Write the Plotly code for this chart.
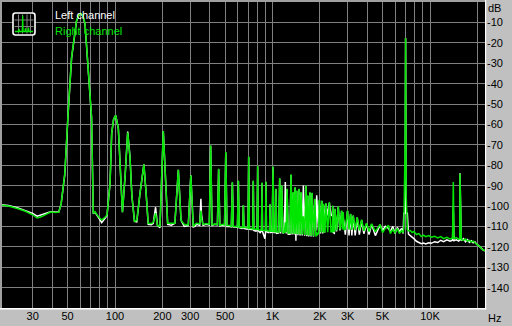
import plotly.graph_objects as go

# ---------------- data ----------------
# low band: 19 Hz .. 322 Hz
freq_low = [19.0, 21.0, 24.0, 27.0, 30.0, 32.0, 34.0, 36.5, 39.0, 42.0, 44.0, 45.5, 48.0, 50.5, 53.0, 57.0,
            59.0, 60.5, 62.5, 64.5, 67.7, 71.0, 72.8, 74.6, 78.4, 82.3, 86.4, 89.0, 93.0, 95.3, 98.0, 101.0,
            105.0, 108.0, 111.5, 116.0, 120.4, 124.5, 128.0, 133.0, 137.5, 144.0, 152.6, 158.0, 162.5, 170.0,
            175.0, 181.0, 186.0, 193.0, 198.0, 202.6, 210.0, 216.0, 228.0, 240.0, 252.4, 262.5, 275.0, 292.0,
            303.0, 314.0, 322.0]
right_low = [-99.6, -100.0, -101.2, -102.6, -104.3, -105.9, -105.3, -104.0, -103.0, -103.2, -103.0, -99.0, -84.0, -53.0, -27.0, -9.0,
             -6.2, -5.6, -6.6, -10.5, -32.0, -56.4, -103.6, -102.8, -105.2, -106.9, -105.5, -104.4, -89.0, -64.3, -57.5, -55.5,
             -62.0, -80.0, -103.0, -85.0, -64.0, -76.0, -95.0, -107.5, -107.0, -94.0, -79.6, -95.0, -108.5, -108.6,
             -108.0, -103.5, -109.5, -110.0, -88.7, -63.3, -88.9, -108.5, -108.5, -108.5, -82.2, -107.0, -109.0, -109.3,
             -85.0, -110.0, -109.0]
left_low = [-99.3, -99.8, -100.9, -102.2, -103.6, -105.0, -104.4, -103.4, -102.8, -103.0, -102.8, -99.0, -84.5, -53.5, -27.5, -9.3,
            -6.4, -5.8, -6.8, -10.8, -32.5, -57.0, -103.8, -103.0, -105.6, -108.2, -106.0, -104.6, -89.0, -64.3, -57.5, -55.6,
            -62.0, -80.0, -103.0, -85.0, -63.5, -76.0, -95.0, -107.5, -107.8, -94.0, -79.6, -95.0, -109.0, -109.2,
            -108.5, -100.6, -109.5, -110.6, -88.7, -63.3, -88.9, -109.0, -109.4, -108.5, -82.2, -107.0, -110.0, -109.6,
            -85.0, -110.3, -110.0]

# mid band: 330 Hz .. 1.1 kHz
freq_mid = [330, 345, 348, 351, 354, 362, 380, 397, 405, 413, 430, 447, 455, 463, 480, 496, 505, 514, 535, 548,
            556, 564, 585, 599, 607, 615, 640, 647, 653, 659, 690, 699, 706, 713, 735, 749, 755, 761, 785, 798,
            805, 812, 835, 852, 858, 864, 895, 903, 909, 915, 940, 958, 964, 970, 995, 1008, 1020, 1045, 1052,
            1062, 1095]
right_mid = [-108.5, -108.8, -104.0, -102.2, -106.0, -109.0, -108.6, -109.0, -70.3, -109.2, -108.8, -109.0, -81.7, -109.5,
             -109.0, -109.3, -73.5, -109.5, -109.6, -110.0, -88.3, -110.0, -110.0, -110.2, -87.5, -110.4, -110.5, -110.5,
             -99.5, -110.6, -110.6, -110.8, -75.8, -111.0, -111.0, -111.2, -87.5, -111.4, -111.4, -111.5, -80.3, -111.6,
             -111.8, -111.8, -88.5, -111.9, -112.0, -112.0, -88.0, -112.0, -112.2, -112.2, -99.0, -112.4, -112.4, -80.7,
             -112.5, -112.6, -91.5, -112.7, -112.8]
left_mid = [-109.0, -109.5, -100.0, -96.4, -104.0, -109.5, -109.0, -109.3, -70.5, -109.5, -109.0, -109.2, -82.0, -109.8,
            -109.5, -109.6, -73.8, -110.0, -110.0, -110.2, -88.5, -110.3, -110.2, -110.5, -87.8, -110.6, -111.0, -110.8,
            -99.7, -111.0, -111.4, -111.0, -76.0, -111.4, -111.5, -111.5, -87.7, -112.0, -112.3, -112.0, -80.5, -112.2,
            -113.0, -112.0, -88.8, -112.5, -116.0, -113.0, -88.3, -112.5, -113.0, -112.5, -99.3, -113.0, -112.8, -81.0,
            -113.0, -113.0, -91.8, -113.4, -113.2]

# upper-mid band: 1.1 kHz .. 3 kHz
freq_hi1 = [1111, 1126, 1144, 1165, 1190, 1206, 1222, 1237, 1258, 1292, 1311, 1332, 1354, 1372, 1390, 1408, 1425,
            1450, 1475, 1497, 1518, 1545, 1570, 1600, 1633, 1653, 1674, 1700, 1730, 1758, 1785, 1820, 1860, 1885,
            1908, 1930, 1960, 1984, 2020, 2057, 2085, 2106, 2140, 2150, 2185, 2240, 2296, 2350, 2400, 2413, 2430,
            2470, 2490, 2550, 2614, 2680, 2747, 2780, 2811, 2850, 2900, 2995]
right_hi1 = [-86.3, -112.8, -89.9, -113.0, -113.0, -108.0, -113.0, -91.5, -113.2, -113.3, -84.5, -113.5, -93.2, -113.6,
             -90.7, -113.7, -92.4, -113.8, -91.5, -113.9, -93.2, -114.0, -105.0, -114.2, -89.9, -114.3, -94.8, -114.5,
             -93.2, -114.6, -93.5, -114.8, -96.4, -115.0, -113.0, -114.0, -113.5, -96.9, -113.0, -97.3, -113.0, -98.9,
             -113.0, -112.8, -98.6, -112.8, -98.1, -112.6, -112.6, -99.7, -112.5, -112.5, -101.3, -112.0, -100.2,
             -111.5, -102.2, -111.5, -103.0, -111.5, -111.5, -102.2]
left_hi1 = [-86.6, -113.5, -90.2, -113.5, -112.0, -88.3, -113.5, -91.8, -113.8, -113.8, -84.8, -114.0, -93.5, -114.0,
            -91.0, -117.0, -92.7, -114.3, -91.8, -114.5, -93.5, -114.5, -89.9, -114.6, -90.2, -114.8, -95.1, -115.0,
            -93.5, -115.0, -93.8, -115.0, -96.7, -112.0, -94.8, -103.0, -112.0, -97.2, -113.5, -97.6, -113.5, -99.2,
            -113.0, -104.6, -98.9, -104.6, -98.4, -104.6, -104.6, -100.0, -113.0, -113.3, -101.6, -112.5, -100.5,
            -112.0, -102.5, -106.5, -106.0, -108.5, -114.0, -102.5]

# high band: 3 kHz .. 22 kHz
freq_hi2 = [3060, 3132, 3190, 3254, 3350, 3450, 3560, 3680, 3800, 3955, 4100, 4258, 4500, 4820, 5000, 5200, 5450,
            5600, 5800, 6000, 6200, 6400, 6600, 6750, 6820, 6950, 7000, 7060, 7180, 7300, 7500, 7700, 7900, 8200,
            8500, 8800, 9100, 9400, 9800, 10200, 10700, 11200, 11700, 12200, 12800, 13400, 13900, 14060, 14200,
            14700, 15200, 15450, 15500, 15650, 15800, 16300, 16800, 17300, 17800, 18300, 18800, 19300, 19800,
            20300, 20800, 21300, 21800, 22300]
right_hi2 = [-111.6, -103.8, -111.7, -104.6, -111.8, -105.4, -112.0, -106.7, -112.2, -108.4, -112.5, -108.7, -112.6,
             -109.0, -113.0, -111.0, -109.5, -113.5, -111.5, -113.0, -111.0, -113.5, -112.0, -113.0, -111.0, -69.5,
             -17.7, -95.0, -111.5, -112.2, -112.0, -113.0, -112.5, -114.0, -113.5, -115.0, -114.3, -115.0, -114.5,
             -115.3, -114.8, -115.6, -115.0, -116.0, -115.4, -116.2, -115.8, -88.3, -116.0, -115.5, -116.3, -116.0,
             -84.2, -95.6, -116.5, -116.8, -116.2, -117.2, -116.8, -117.6, -117.2, -118.0, -118.6, -119.0, -120.0,
             -121.0, -121.5, -122.0]
left_hi2 = [-114.4, -104.0, -114.4, -104.8, -114.4, -105.7, -114.0, -107.0, -113.6, -108.7, -114.0, -109.0, -114.5,
            -109.3, -112.0, -110.0, -111.0, -112.5, -110.0, -113.5, -110.5, -112.5, -111.0, -113.5, -103.5, -103.5,
            -17.7, -103.5, -103.5, -113.8, -114.5, -115.5, -116.0, -117.3, -118.0, -118.5, -118.2, -118.6, -118.0,
            -118.3, -117.5, -117.9, -116.8, -117.5, -116.6, -117.3, -116.8, -100.0, -117.0, -116.6, -117.2, -116.6,
            -84.0, -95.6, -117.0, -116.0, -117.5, -116.5, -117.8, -117.0, -118.0, -117.6, -118.8, -119.3, -120.2,
            -121.0, -121.6, -122.0]

freq = freq_low + freq_mid + freq_hi1 + freq_hi2
right_db = right_low + right_mid + right_hi1 + right_hi2
left_db = left_low + left_mid + left_hi1 + left_hi2

x_grid = [30, 40, 50, 60, 70, 80, 90, 100, 200, 300, 400, 500, 600, 700, 800, 900,
          1000, 2000, 3000, 4000, 5000, 6000, 7000, 8000, 9000, 10000, 20000]
x_text = ["30", "", "50", "", "", "", "", "100", "200", "300", "", "500", "", "", "", "",
          "1K", "2K", "3K", "", "5K", "", "", "", "", "10K", ""]
y_grid = [-10, -20, -30, -40, -50, -60, -70, -80, -90, -100, -110, -120, -130, -140]
y_text = [str(v) for v in y_grid]

# ---------------- layout geometry ----------------
W, H = 512, 326
PL, PR, PT, PB = 2, 485, 2, 308
GREEN = "#00e600"
FACE = "#c0c0c0"
FONT = "Liberation Sans, Arial, sans-serif"


def PX(x):
    return (x - PL) / (PR - PL)


def PY(y):
    return (PB - y) / (PB - PT)


fig = go.Figure()
fig.add_trace(go.Scatter(x=freq, y=left_db, mode="lines", line=dict(color="#ffffff", width=1.5),
                         hoverinfo="skip", showlegend=False))
fig.add_trace(go.Scatter(x=freq, y=right_db, mode="lines", line=dict(color=GREEN, width=1.5),
                         hoverinfo="skip", showlegend=False))

shapes = []
# sunken frame
shapes.append(dict(type="rect", xref="paper", yref="paper", x0=PX(0), x1=PX(2), y0=PY(309), y1=PY(0),
                   fillcolor="#a0a0a0", line=dict(width=0), layer="above"))
shapes.append(dict(type="rect", xref="paper", yref="paper", x0=PX(0), x1=PX(485), y0=PY(2), y1=PY(0),
                   fillcolor="#a0a0a0", line=dict(width=0), layer="above"))
shapes.append(dict(type="rect", xref="paper", yref="paper", x0=PX(485), x1=PX(486.2), y0=PY(309.5), y1=PY(0),
                   fillcolor="#ffffff", line=dict(width=0), layer="above"))
shapes.append(dict(type="rect", xref="paper", yref="paper", x0=PX(0), x1=PX(486.2), y0=PY(309.5), y1=PY(308),
                   fillcolor="#ffffff", line=dict(width=0), layer="above"))

# legend icon (rounded box with a mini spectrum)
r = 2.5
bx0, by0, bx1, by1 = 13, 13, 35, 35
rp = [(bx0 + r, by0), (bx1 - r, by0), (bx1, by0 + r), (bx1, by1 - r), (bx1 - r, by1), (bx0 + r, by1),
      (bx0, by1 - r), (bx0, by0 + r)]
box_path = (f"M {PX(rp[0][0]):.5f},{PY(rp[0][1]):.5f} L {PX(rp[1][0]):.5f},{PY(rp[1][1]):.5f} "
            f"Q {PX(bx1):.5f},{PY(by0):.5f} {PX(rp[2][0]):.5f},{PY(rp[2][1]):.5f} "
            f"L {PX(rp[3][0]):.5f},{PY(rp[3][1]):.5f} "
            f"Q {PX(bx1):.5f},{PY(by1):.5f} {PX(rp[4][0]):.5f},{PY(rp[4][1]):.5f} "
            f"L {PX(rp[5][0]):.5f},{PY(rp[5][1]):.5f} "
            f"Q {PX(bx0):.5f},{PY(by1):.5f} {PX(rp[6][0]):.5f},{PY(rp[6][1]):.5f} "
            f"L {PX(rp[7][0]):.5f},{PY(rp[7][1]):.5f} "
            f"Q {PX(bx0):.5f},{PY(by0):.5f} {PX(rp[0][0]):.5f},{PY(rp[0][1]):.5f} Z")
shapes.append(dict(type="path", xref="paper", yref="paper", path=box_path, fillcolor="#000000",
                   line=dict(color="#ffffff", width=1.6), layer="above"))
for gx in [18.5, 22.5, 27, 30.5]:
    shapes.append(dict(type="line", xref="paper", yref="paper", x0=PX(gx), x1=PX(gx), y0=PY(33.5), y1=PY(14.5),
                       line=dict(color="#808080", width=1), layer="above"))
for gy in [20, 26.5]:
    shapes.append(dict(type="line", xref="paper", yref="paper", x0=PX(14.5), x1=PX(33.5), y0=PY(gy), y1=PY(gy),
                       line=dict(color="#808080", width=1), layer="above"))
icon_pts = [(15, 31.5), (18.5, 31.5), (19, 29), (19.5, 31.5), (22.3, 31.5), (22.7, 15.5), (23.1, 31.5),
            (25, 31.5), (25.5, 28), (26, 31.5), (28, 31.5), (28.5, 27.5), (29, 31.5), (33, 31.5)]
path = "M " + " L ".join(f"{PX(a):.5f},{PY(b):.5f}" for a, b in icon_pts)
shapes.append(dict(type="path", xref="paper", yref="paper", path=path,
                   line=dict(color=GREEN, width=1.3), layer="above"))

annotations = [
    dict(text="Left channel", x=PX(52.5), y=PY(15), xref="paper", yref="paper", xanchor="left", yanchor="middle",
         showarrow=False, font=dict(family=FONT, size=11, color="#ffffff")),
    dict(text="Right channel", x=PX(52.5), y=PY(31), xref="paper", yref="paper", xanchor="left", yanchor="middle",
         showarrow=False, font=dict(family=FONT, size=11, color=GREEN)),
    dict(text="dB", x=PX(486), y=PY(8), xref="paper", yref="paper", xanchor="left", yanchor="middle",
         showarrow=False, font=dict(family=FONT, size=11, color="#000000")),
    dict(text="Hz", x=PX(486), y=PY(318), xref="paper", yref="paper", xanchor="left", yanchor="middle",
         showarrow=False, font=dict(family=FONT, size=11, color="#000000")),
]
# right-hand dB scale labels, left-aligned next to the plot
for v, t in zip(y_grid, y_text):
    annotations.append(dict(text=t, x=PX(485.5), xref="paper", y=v, yref="y", xanchor="left", yanchor="middle",
                            showarrow=False, font=dict(family=FONT, size=11, color="#000000")))

fig.update_layout(
    width=W, height=H,
    margin=dict(l=PL, r=W - PR, t=PT, b=H - PB, pad=0),
    paper_bgcolor=FACE, plot_bgcolor="#000000",
    showlegend=False,
    font=dict(family=FONT, size=11, color="#000000"),
    shapes=shapes, annotations=annotations,
    xaxis=dict(type="log", range=[1.2825, 4.3492], tickmode="array", tickvals=x_grid, ticktext=x_text,
               showgrid=True, gridcolor="#808080", gridwidth=1, zeroline=False, showline=False, ticks="",
               tickfont=dict(family=FONT, size=11, color="#000000"), fixedrange=True),
    yaxis=dict(range=[-150, 0], side="right", tickmode="array", tickvals=y_grid, ticktext=y_text,
               showticklabels=False,
               showgrid=True, gridcolor="#808080", gridwidth=1, zeroline=False, showline=False, ticks="",
               fixedrange=True),
)

fig.write_html("out.html")
